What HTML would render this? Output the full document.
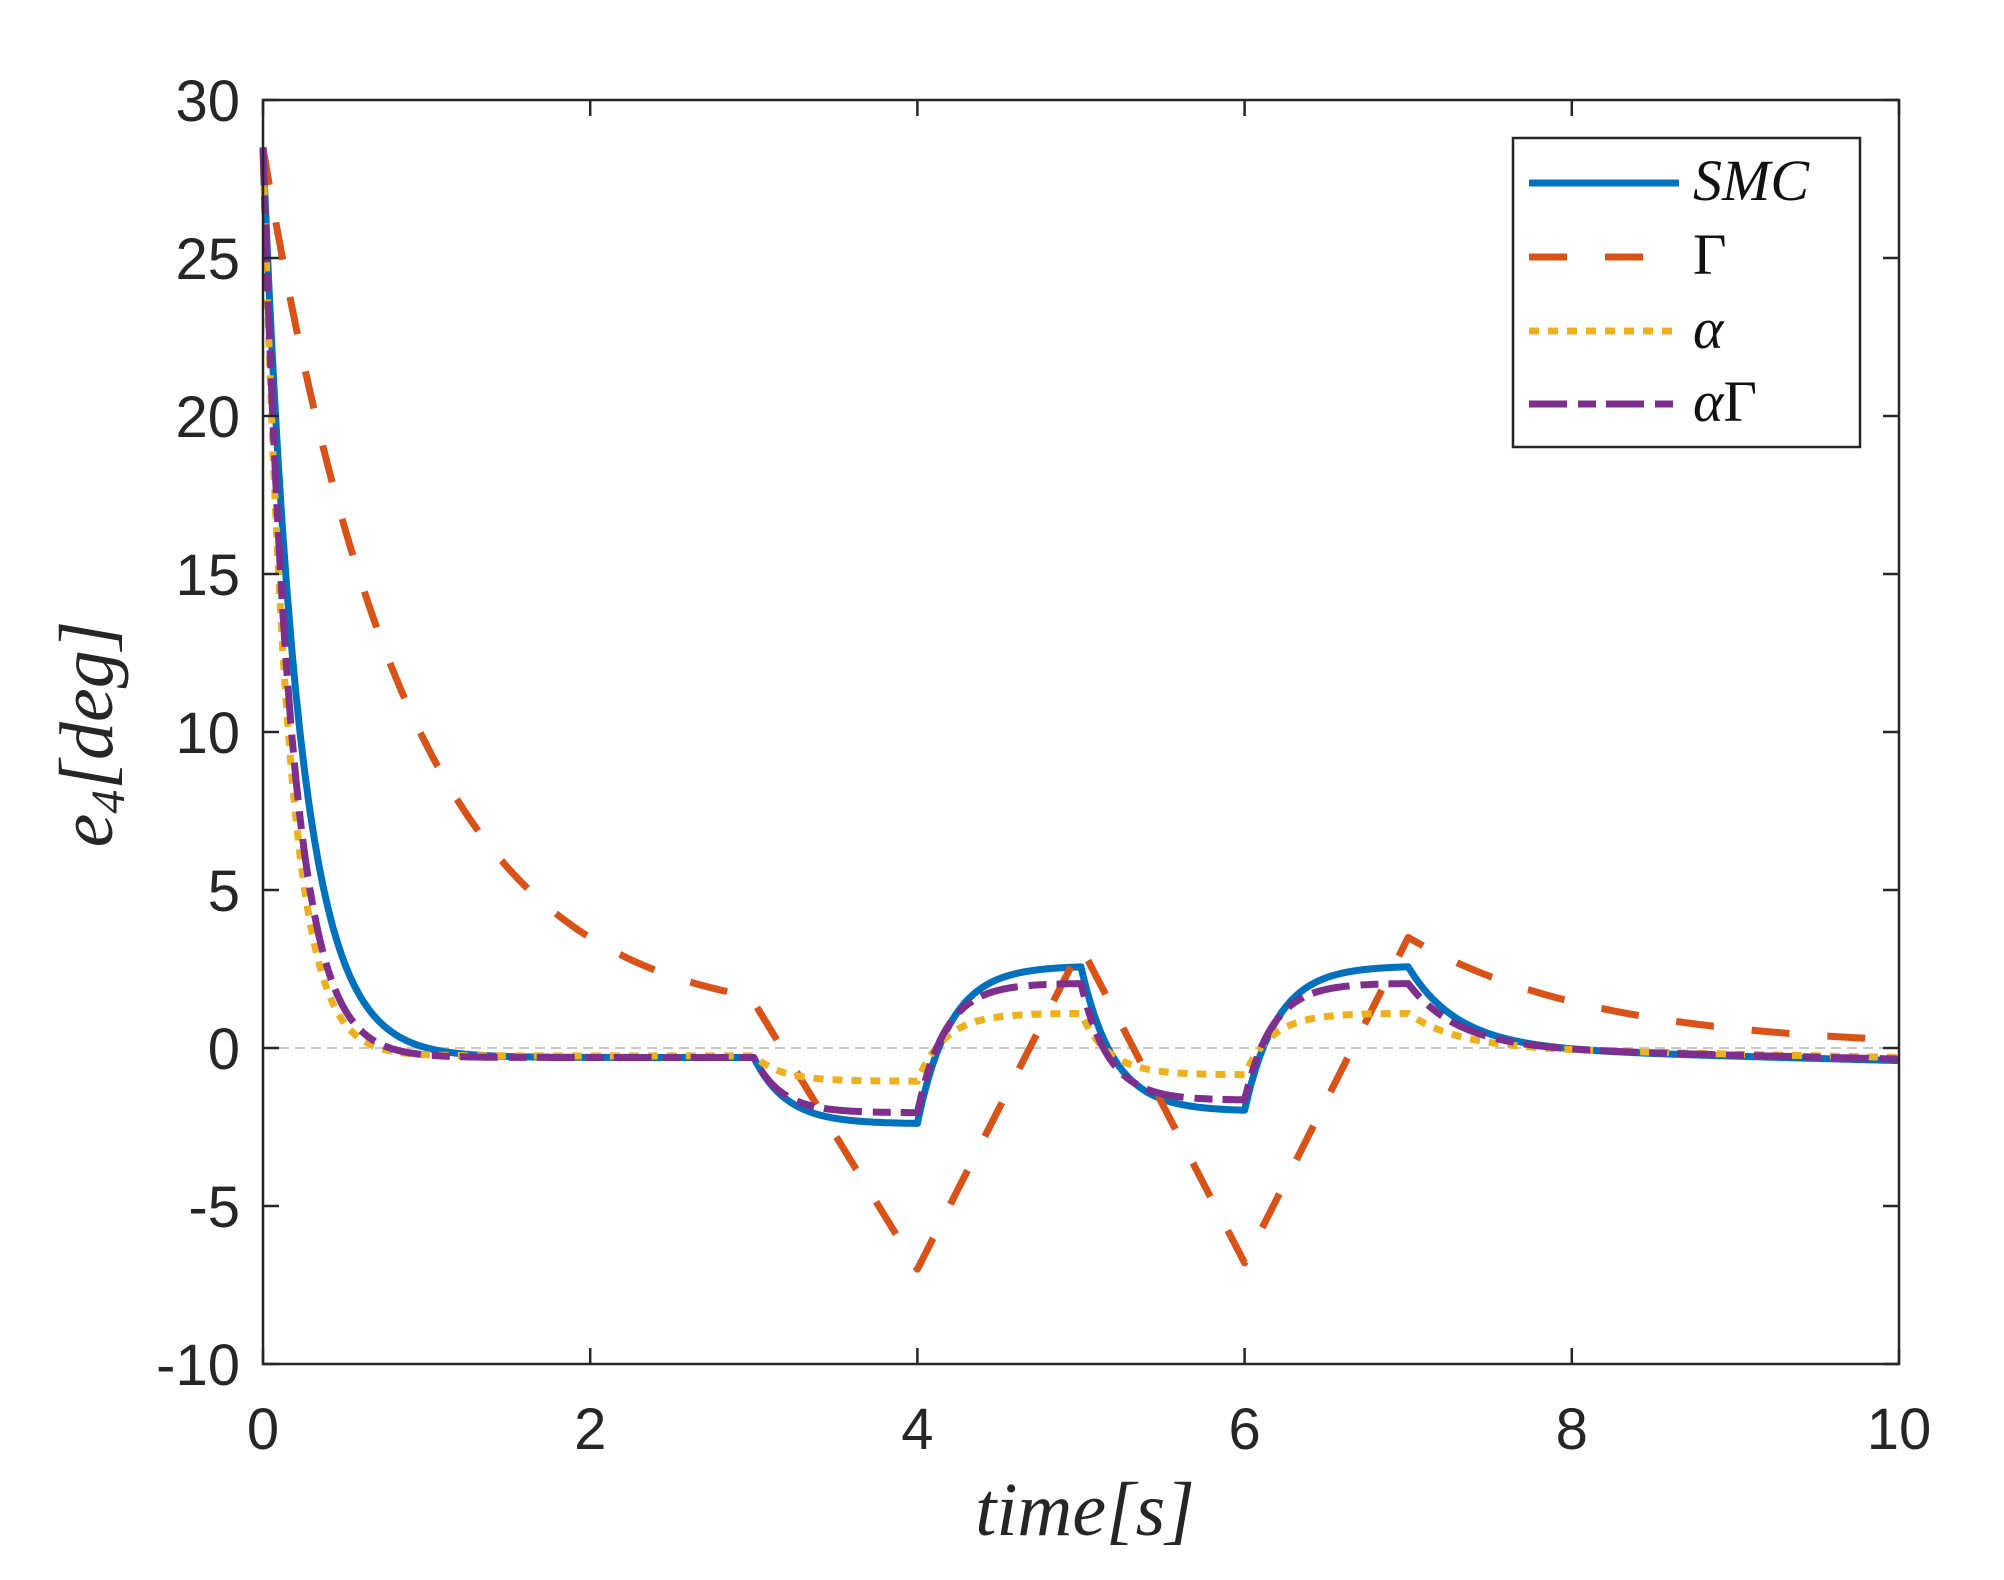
<!DOCTYPE html>
<html><head><meta charset="utf-8"><style>
html,body{margin:0;padding:0;background:#fff;}
svg{display:block;}
</style></head><body>
<svg id="s" width="2004" height="1580" xmlns="http://www.w3.org/2000/svg" font-family="Liberation Sans, sans-serif">
<rect width="2004" height="1580" fill="#fff"/>
<line x1="263" y1="1048" x2="1899" y2="1048" stroke="#c8c8c8" stroke-width="2" stroke-dasharray="10,6"/>
<g id="curves" fill="none" stroke-linejoin="round"></g>
<rect x="263" y="100" width="1636" height="1264" fill="none" stroke="#262626" stroke-width="2.5"/>
<g id="ticks" stroke="#262626" stroke-width="2.5"></g>
<g id="labels" font-size="58" fill="#262626"></g>
<text x="1085" y="1535" font-family="Liberation Serif, serif" font-style="italic" font-size="76" text-anchor="middle" fill="#262626">time[s]</text>
<text transform="translate(112,734) rotate(-90)" font-family="Liberation Serif, serif" font-style="italic" font-size="76" text-anchor="middle" fill="#262626">e<tspan font-size="48" dy="12">4</tspan><tspan dy="-12">[deg]</tspan></text>
<rect x="1513" y="138" width="347" height="309" fill="#fff" stroke="#262626" stroke-width="2.5"/>
<line x1="1529" y1="183" x2="1679" y2="183" stroke="#0072BD" stroke-width="7"/>
<line x1="1529" y1="257" x2="1679" y2="257" stroke="#D95319" stroke-width="7" stroke-dasharray="38,38"/>
<line x1="1529" y1="331" x2="1674" y2="331" stroke="#EDB120" stroke-width="7" stroke-dasharray="10,9"/>
<line x1="1529" y1="404" x2="1679" y2="404" stroke="#7E2F8E" stroke-width="7" stroke-dasharray="38,11,18,10"/>
<g font-family="Liberation Serif, serif" font-style="italic" font-size="58" fill="#111">
<text x="1693" y="200">SMC</text>
<text x="1693" y="274" font-style="normal">Γ</text>
<text x="1693" y="348">α</text>
<text x="1693" y="421">α<tspan font-style="normal">Γ</tspan></text>
</g>
</svg>
<script>
const X=t=>263+t*163.6, Y=v=>1048-v*31.6;
function seg(v0,target,tau,dt){return target+(v0-target)*Math.exp(-dt/tau);}
function fast(p){
  return function(t){
    if(t<3) return seg(28.5,p.base,p.tau0,t);
    let v=seg(28.5,p.base,p.tau0,3);
    const tg=p.lv;
    for(let k=0;k<4;k++){
      const s=3+k, e=s+1;
      if(t<e) return seg(v,tg[k],p.tau,t-s);
      v=seg(v,tg[k],p.tau,1);
    }
    const dt=t-7;
    return v*Math.exp(-dt/0.3)+ (p.end)*(dt/3)*(1-Math.exp(-dt/0.5));
  };
}
const smc=fast({tau0:0.22,base:-0.3,lv:[-2.4,2.6,-2.0,2.6],tau:0.2,end:-0.4});
const ag=fast({tau0:0.17,base:-0.3,lv:[-2.05,2.05,-1.65,2.05],tau:0.17,end:-0.35});
const al=fast({tau0:0.15,base:-0.25,lv:[-1.05,1.1,-0.85,1.1],tau:0.17,end:-0.3});
function gam(t){
  if(t<3) return 28.5*Math.exp(-t/0.9)+0.2*t;
  const p=[[3,1.45],[4,-7.0],[5,3.2],[6,-6.8],[7,3.5]];
  for(let k=0;k<4;k++){if(t<p[k+1][0]){const f=t-p[k][0];return p[k][1]+(p[k+1][1]-p[k][1])*f;}}
  return 3.5*Math.exp(-(t-7)/1.15);
}
function path(f){let d='';for(let i=0;i<=2000;i++){const t=i*10/2000;d+=(i?'L':'M')+X(t).toFixed(1)+','+Y(f(t)).toFixed(1);}return d;}
const g=document.getElementById('curves');
const add=(f,c,da)=>{const e=document.createElementNS('http://www.w3.org/2000/svg','path');e.setAttribute('d',path(f));e.setAttribute('stroke',c);e.setAttribute('stroke-width','7');if(da)e.setAttribute('stroke-dasharray',da);g.appendChild(e);};
add(smc,'#0072BD');
add(gam,'#D95319','38,38');
add(al,'#EDB120','10,9');
add(ag,'#7E2F8E','38,11,18,10');
const tk=document.getElementById('ticks'),lb=document.getElementById('labels');
const L=(x1,y1,x2,y2)=>{const e=document.createElementNS('http://www.w3.org/2000/svg','line');e.setAttribute('x1',x1);e.setAttribute('y1',y1);e.setAttribute('x2',x2);e.setAttribute('y2',y2);tk.appendChild(e);};
const T=(x,y,s,a)=>{const e=document.createElementNS('http://www.w3.org/2000/svg','text');e.setAttribute('x',x);e.setAttribute('y',y);e.setAttribute('text-anchor',a);e.textContent=s;lb.appendChild(e);};
for(let t=0;t<=10;t+=2){const x=X(t);L(x,1364,x,1348);L(x,100,x,116);T(x,1449,String(t),'middle');}
for(let v=-10;v<=30;v+=5){const y=Y(v);L(263,y,279,y);L(1899,y,1883,y);T(240,y+21,String(v),'end');}
</script>
</body></html>
